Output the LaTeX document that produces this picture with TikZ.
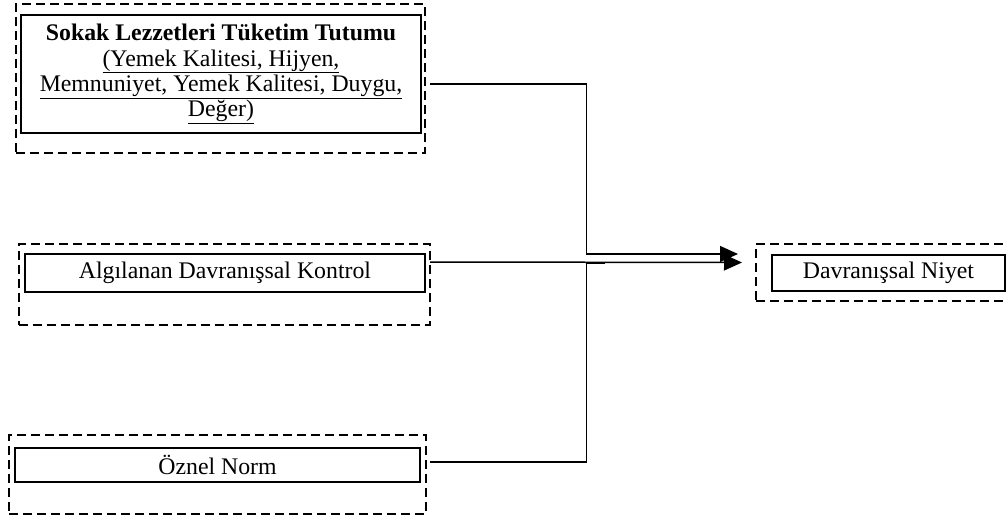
\documentclass[tikz,border=0pt]{standalone}
\usepackage{fontspec}
\setmainfont{Liberation Serif}
\usetikzlibrary{arrows.meta}
\begin{document}
\begin{tikzpicture}[x=1pt,y=-1pt,
  outerbox/.style={draw, line width=2pt, dash pattern=on 9pt off 5pt, inner sep=0pt, outer sep=0pt},
  innerbox/.style={draw, line width=1.6pt, inner sep=0pt, outer sep=0pt, align=center, font=\fontsize{23.8}{25.3}\selectfont},
  conn/.style={line width=1.5pt},
  arr/.style={line width=1.5pt, -{Triangle[length=18pt,width=16pt]}}]
\useasboundingbox (0,0) rectangle (1007,519);
% box 1
\node[outerbox, minimum width=409pt, minimum height=149pt] (o1) at (220.5,78.5) {};
\node[innerbox, minimum width=400pt, minimum height=118pt] (i1) at (221,74)
  {\textbf{Sokak Lezzetleri Tüketim Tutumu}\\
   \underline{(Yemek Kalitesi, Hijyen,}\\
   \underline{Memnuniyet, Yemek Kalitesi, Duygu,}\\
   \underline{Değer)}};
% box 2
\node[outerbox, minimum width=411pt, minimum height=81pt] (o2) at (224.5,284.5) {};
\node[innerbox, minimum width=400pt, minimum height=38pt] (i2) at (225,273) {Algılanan Davranışsal Kontrol};
% box 3
\node[outerbox, minimum width=417pt, minimum height=79pt] (o3) at (217.5,474.5) {};
\node[innerbox, minimum width=405pt, minimum height=34pt] (i3) at (217.5,465) {Öznel Norm};
% box 4
\node[outerbox, minimum width=256pt, minimum height=57pt] (o4) at (884,272.5) {};
\node[innerbox, minimum width=233pt, minimum height=36pt] (i4) at (888.5,273) {Davranışsal Niyet};
% connectors
\coordinate (j1) at (586.5,254);
\coordinate (j2) at (586.5,263);
\draw[arr] ([shift={(5,5.5)}]o1.east) -| (j1) -- ([shift={(-18,-18.5)}]o4.west);
\draw[arr] ([shift={(0,-22.5)}]o2.east) -- ([shift={(-14,-10)}]o4.west);
\draw[conn] ([shift={(4,-12.5)}]o3.east) -| (j2);
\draw[line width=2pt] (j2) -- ++(18,0);
\end{tikzpicture}
\end{document}
